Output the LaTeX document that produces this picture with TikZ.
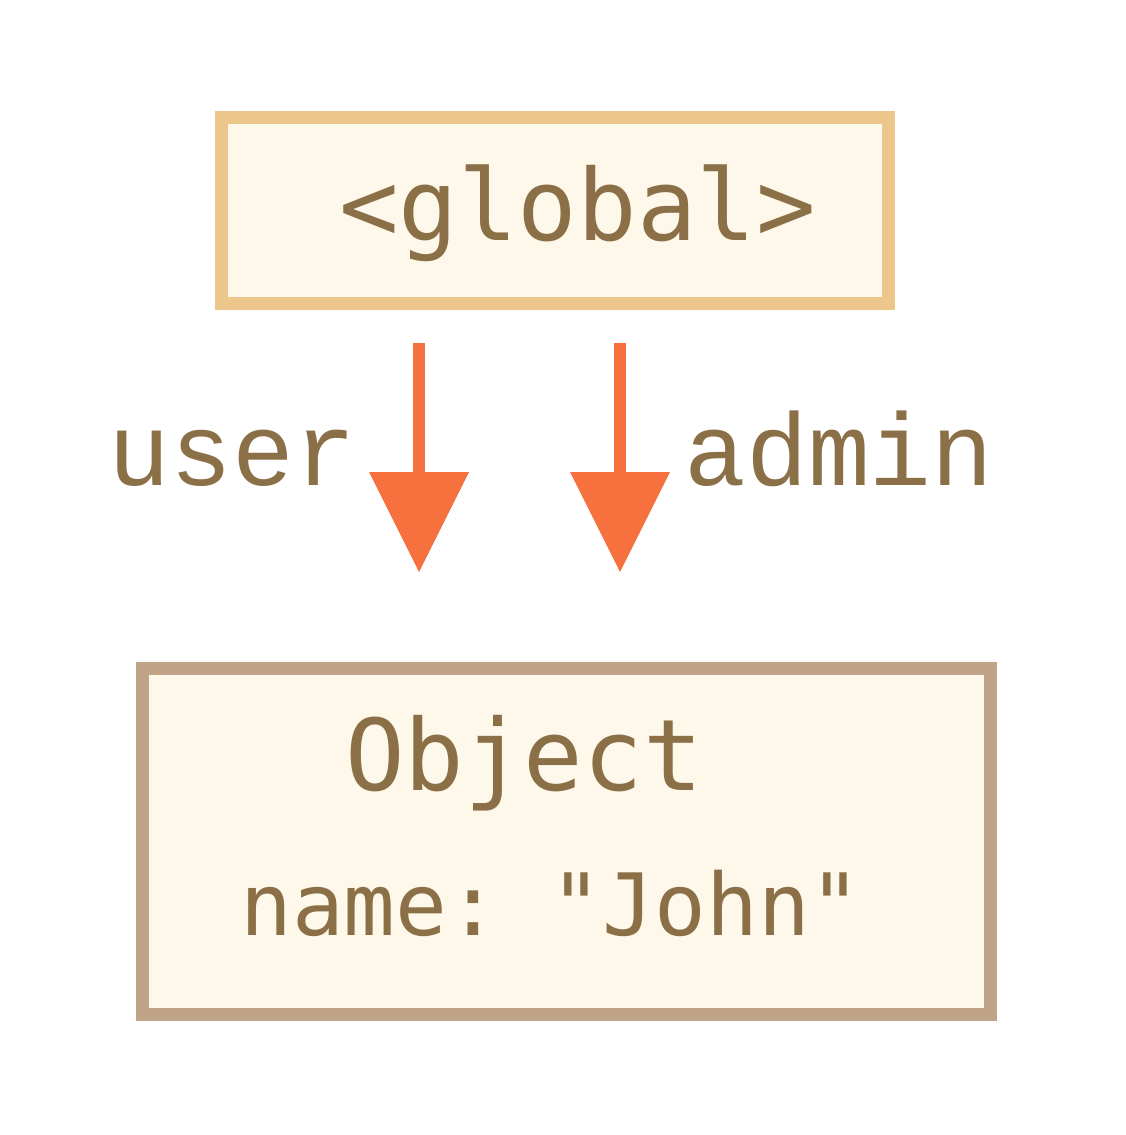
\documentclass[tikz,border=0pt]{standalone}
\usepackage{fontspec}
\setmonofont{DejaVu Sans Mono}
\newfontfamily\reffont{Liberation Mono}
\definecolor{globBorder}{RGB}{236,198,138}
\definecolor{objBorder}{RGB}{192,164,135}
\definecolor{boxFill}{RGB}{253,248,234}
\definecolor{textBrown}{RGB}{139,111,71}
\definecolor{refOrange}{RGB}{247,113,63}
\usetikzlibrary{arrows.meta,positioning}
\tikzset{
	>={Triangle[width=100pt,length=100pt,line width=0pt]},
	membox/.style={
		rectangle,
		fill=boxFill,
		line width=13pt,
		inner sep=0pt},
	globbox/.style={membox, draw=globBorder,
		minimum width=667pt, minimum height=186pt},
	objbox/.style={membox, draw=objBorder,
		minimum width=848pt, minimum height=346pt},
	boxtext/.style={
		text=textBrown,
		inner sep=0pt,
		anchor=base,
		font=\ttfamily\fontsize{99}{106}\selectfont},
	proptext/.style={boxtext,
		font=\ttfamily\fontsize{86}{94}\selectfont},
	reflabel/.style={
		text=textBrown,
		inner sep=0pt,
		anchor=base,
		font=\reffont\fontsize{103}{110}\selectfont},
	refline/.style={draw=refOrange, fill=refOrange, line width=12pt, ->},
}

\begin{document}
\begin{tikzpicture}[x=1pt,y=-1pt]
\useasboundingbox (0,0) rectangle (1125,1135);

% the two memory cells
\node[globbox] (global) at (554.5,210) {};
\node[boxtext] (globaltxt) at (577.5,240) {<global>};

\node[objbox] (obj) at (566,841) {};
\node[boxtext] (objtitle) at (524,790) {Object};
\node[proptext] (objprop) at (551,935) {name: "John"};

% references
\coordinate (userfrom) at (419,343);
\coordinate (userto) at (419,572);
\coordinate (adminfrom) at (620,343);
\coordinate (adminto) at (620,572);
\draw[refline] (userfrom) -- (userto);
\draw[refline] (adminfrom) -- (adminto);

\node[reflabel] (user) at (232.5,485) {user};
\node[reflabel] (admin) at (839,485) {admin};
\end{tikzpicture}
\end{document}
